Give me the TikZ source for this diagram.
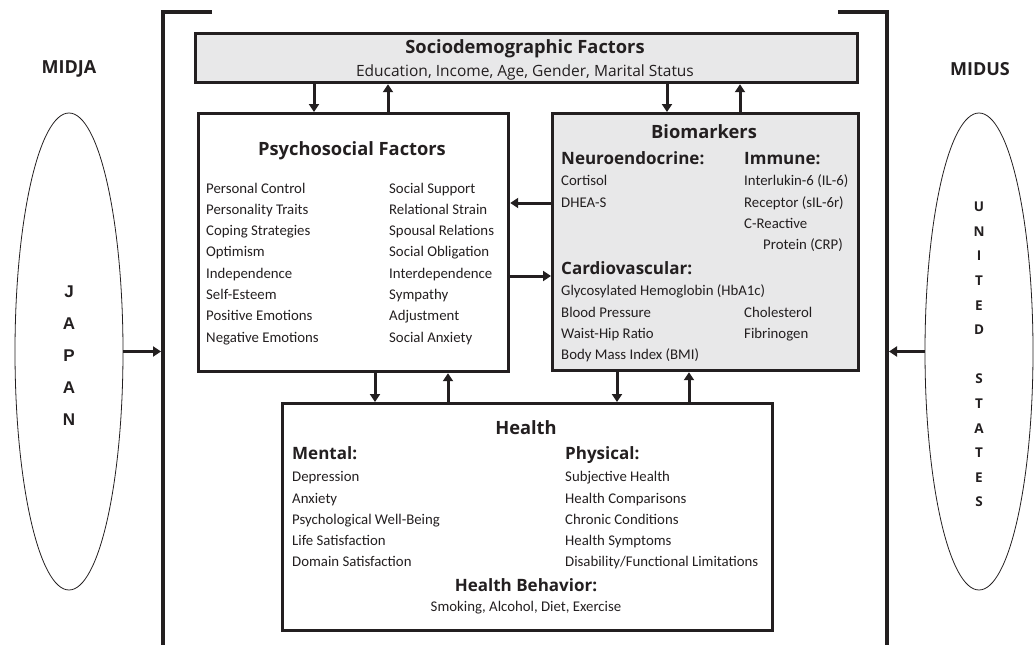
\documentclass[tikz,border=0pt]{standalone}
\usepackage{fontspec}
\setmainfont{Carlito}
\newfontfamily\headfont{Open Sans}
\newfontfamily\jpfont{Liberation Sans}
\usetikzlibrary{arrows.meta,shapes.geometric}
\definecolor{ink}{RGB}{35,31,32}
\definecolor{boxgray}{RGB}{232,232,233}

\begin{document}
\begin{tikzpicture}[
    x=1pt, y=-1pt,
    box/.style={draw=ink, line width=3.2pt, inner sep=0pt, anchor=north west},
    shaded/.style={box, fill=boxgray},
    head/.style={font=\headfont\bfseries\fontsize{18.3}{21}\selectfont, text=ink,
      inner sep=0pt, text height=13pt, text depth=0pt},
    sub/.style={font=\headfont\bfseries\fontsize{17}{20}\selectfont, text=ink,
      anchor=west, inner sep=0pt, text height=12.1pt, text depth=0pt},
    item/.style={font=\fontsize{14.8}{17}\selectfont, text=ink, anchor=west,
      inner sep=0pt, text height=9.5pt, text depth=0pt},
    study/.style={font=\headfont\bfseries\fontsize{18}{20}\selectfont, text=ink},
    country/.style={ellipse, draw=ink, line width=0.8pt, minimum width=108pt,
      minimum height=477pt, inner sep=0pt},
    arr/.style={draw=ink, line width=3pt, -{Triangle[width=10pt,length=8pt]}},
    bar/.style={draw=ink, line width=4pt},
  ]
  \useasboundingbox (0,0) rectangle (1036,645);

  % frame round the model
  \draw[bar] (212,12) -| (163,645);
  \draw[bar] (838,12) -| (887,645);
  \coordinate (lbar) at (163,351.5);
  \coordinate (rbar) at (887,351.5);

  % boxes
  \node[shaded, minimum width=662pt, minimum height=49pt] (socio) at (194,32) {};
  \node[box, minimum width=310pt, minimum height=258pt] (psych) at (197,112) {};
  \node[shaded, minimum width=306pt, minimum height=257pt] (bio) at (551,112) {};
  \node[box, minimum width=490pt, minimum height=227pt] (health) at (281,402) {};

  % sociodemographic
  \node[head] (socio-t) at (525,47) {Sociodemographic Factors};
  \node[font=\headfont\fontsize{15.5}{18}\selectfont, text=ink, inner sep=0pt,
    text height=11pt, text depth=0pt] (socio-l) at (525,71)
    {Education, Income, Age, Gender, Marital Status};

  % psychosocial
  \node[head] (psych-t) at (352,149) {Psychosocial Factors};
  \foreach \t [count=\i] in {Personal Control, Personality Traits, Coping Strategies,
      Optimism, Independence, Self-Esteem, Positive Emotions, Negative Emotions}
    \node[item] (psych-a\i) at (206,188.3+21.3*\i-21.3) {\t};
  \foreach \t [count=\i] in {Social Support, Relational Strain, Spousal Relations,
      Social Obligation, Interdependence, Sympathy, Adjustment, Social Anxiety}
    \node[item] (psych-b\i) at (389,188.3+21.3*\i-21.3) {\t};

  % biomarkers
  \node[head] (bio-t) at (704,132) {Biomarkers};
  \node[sub] (neuro) at (561,158) {Neuroendocrine:};
  \node[sub] (immune) at (744,158) {Immune:};
  \node[item] (cortisol) at (561,181) {Cortisol};
  \node[item] (dhea) at (561,202.5) {DHEA-S};
  \node[item] (il6) at (744,181) {Interlukin-6 (IL-6)};
  \node[item] (sil6r) at (744,202.5) {Receptor (sIL-6r)};
  \node[item] (crp) at (744,224) {C-Reactive};
  \node[item] (crp2) at (763,245) {Protein (CRP)};
  \node[sub] (cardio) at (561,268) {Cardiovascular:};
  \foreach \t [count=\i] in {Glycosylated Hemoglobin (HbA1c), Blood Pressure,
      Waist-Hip Ratio, Body Mass Index (BMI)}
    \node[item] (cardio-a\i) at (561,291+21.3*\i-21.3) {\t};
  \node[item] (chol) at (744,312.3) {Cholesterol};
  \node[item] (fib) at (744,333.6) {Fibrinogen};

  % health
  \node[head] (health-t) at (526,428) {Health};
  \node[sub] (mental) at (292,453) {Mental:};
  \node[sub] (physical) at (565,453) {Physical:};
  \foreach \t [count=\i] in {Depression, Anxiety, Psychological Well-Being,
      Life Satisfaction, Domain Satisfaction}
    \node[item] (mental\i) at (292,477+21.25*\i-21.25) {\t};
  \foreach \t [count=\i] in {Subjective Health, Health Comparisons, Chronic Conditions,
      Health Symptoms, Disability/Functional Limitations}
    \node[item] (physical\i) at (565,477+21.25*\i-21.25) {\t};
  \node[sub, anchor=center] (behav) at (526,585) {Health Behavior:};
  \node[item, anchor=center] (behav-l) at (526,607) {Smoking, Alcohol, Diet, Exercise};

  % the two studies
  \node[study] (midja) at (69,69) {MIDJA};
  \node[study] (midus) at (980,69) {MIDUS};
  \node[country] (japan) at (69,351.5) {};
  \node[country] (us) at (979,351.5) {};
  \node[font=\jpfont\bfseries\fontsize{17}{32}\selectfont, text=ink, align=center,
    inner sep=0pt] (japan-l) at (69,356) {J\\A\\P\\A\\N};
  \node[font=\headfont\bfseries\fontsize{13.5}{24.6}\selectfont, text=ink, align=center,
    inner sep=0pt] (us-l) at (979,354.5) {U\\N\\I\\T\\E\\D\\[24.6pt]S\\T\\A\\T\\E\\S};

  % connectors
  \draw[arr] (314,0 |- socio.south) -- (314,0 |- psych.north);
  \draw[arr] (388,0 |- psych.north) -- (388,0 |- socio.south);
  \draw[arr] (667,0 |- socio.south) -- (667,0 |- bio.north);
  \draw[arr] (740,0 |- bio.north) -- (740,0 |- socio.south);
  \draw[arr] (bio.west |- 0,203) -- (psych.east |- 0,203);
  \draw[arr] (psych.east |- 0,276) -- (bio.west |- 0,276);
  \draw[arr] (375,0 |- psych.south) -- (375,0 |- health.north);
  \draw[arr] (448,0 |- health.north) -- (448,0 |- psych.south);
  \draw[arr] (617,0 |- bio.south) -- (617,0 |- health.north);
  \draw[arr] (689,0 |- health.north) -- (689,0 |- bio.south);
  \draw[arr, shorten >=2pt] (japan) -- (lbar);
  \draw[arr, shorten >=2pt] (us) -- (rbar);
\end{tikzpicture}
\end{document}
